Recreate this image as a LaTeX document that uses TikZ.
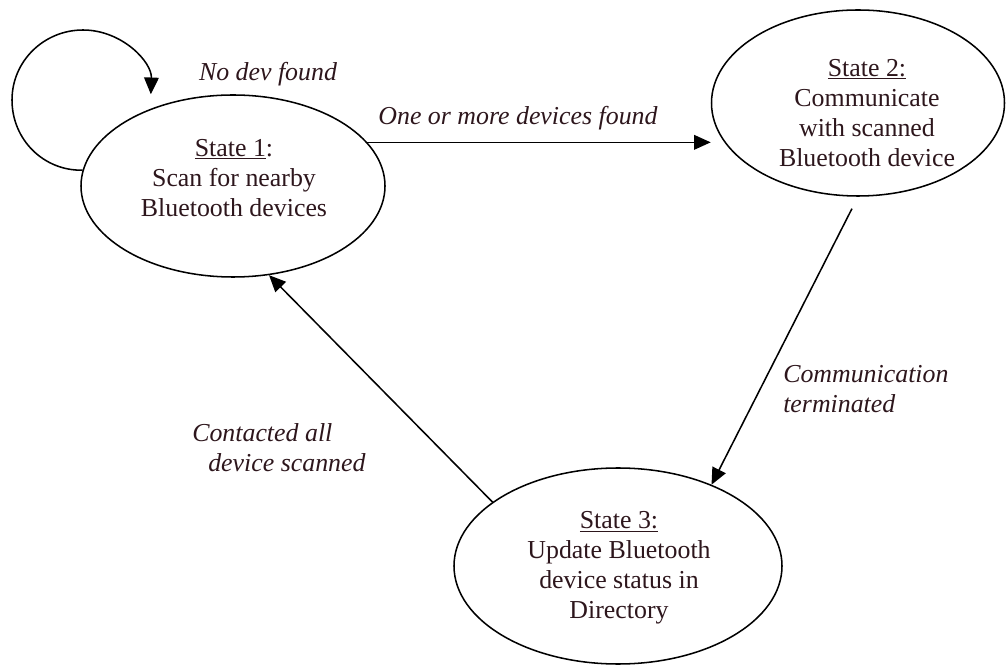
\documentclass[tikz,border=0pt]{standalone}
\usepackage{fontspec}
\setmainfont{Liberation Serif}
\usetikzlibrary{arrows.meta,shapes.geometric}
\definecolor{ink}{RGB}{45,22,28}
\begin{document}
\begin{tikzpicture}[x=0.75pt,y=-0.75pt,
  state/.style={draw, ellipse, line width=1.15pt, inner sep=0pt},
  stxt/.style={text=ink, align=center, inner sep=0pt,
    font=\fontsize{19.4}{22.5}\selectfont},
  lbl/.style={text=ink, inner sep=0pt,
    font=\fontsize{19.4}{22.5}\selectfont\itshape},
  arr/.style={line width=1.15pt, -{Triangle[length=12.5pt,width=11pt]}}]
\useasboundingbox (0,0) rectangle (1007,666);

% states
\node[state, minimum width=228pt, minimum height=136.5pt] (s1) at (233,186) {};
\node[state, minimum width=219.75pt, minimum height=139.5pt] (s2) at (858,103) {};
\node[state, minimum width=246pt, minimum height=147pt] (s3) at (618,566) {};

\node[stxt] (t1) at (234,178) {\underline{State 1}:\\Scan for nearby\\Bluetooth devices};
\node[stxt] (t2) at (867,113) {\underline{State 2:}\\Communicate\\with scanned\\Bluetooth device};
\node[stxt] (t3) at (619,568) {\underline{State 3:}\\Update Bluetooth\\device status in\\Directory};

% transitions
\draw[arr, shorten >=11pt] (s1.174) .. controls (44,171) and (12,140) .. (12,100)
  .. controls (12,61) and (44,30) .. (83,30)
  .. controls (122,30) and (152,62) .. (s1.137);
\draw[arr] (s1.18) -- (s1.18 -| s2.west);
\draw[arr, shorten <=10pt] (s2.south) -- (s3.41);
\draw[arr] (s3.153) -- (s1.292);

% transition labels
\node[lbl] (l0) at (268,74) {No dev found};
\node[lbl] (l1) at (518,118) {One or more devices found};
\node[lbl, align=left, anchor=west] (l2) at (783,389) {Communication\\terminated};
\node[lbl, align=left, anchor=west] (l3) at (192,448) {Contacted all\\\hspace*{12pt}device scanned};
\end{tikzpicture}
\end{document}
